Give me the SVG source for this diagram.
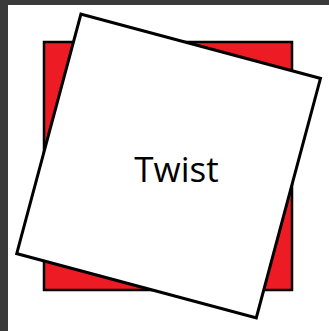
<svg xmlns="http://www.w3.org/2000/svg" width="329" height="331" viewBox="0 0 329 331">
<style>
.frame{fill:#3a3a3a}
.back{fill:#ed1c24;stroke:#000;stroke-width:2.5}
.front{fill:#fff;stroke:#000;stroke-width:3;stroke-linejoin:miter}
.lbl{font-family:"Open Sans","Segoe UI",sans-serif;font-size:35px;fill:#000;text-anchor:middle}
</style>
<rect width="329" height="331" fill="#fff"/>
<rect class="frame" x="0" y="0" width="329" height="5"/>
<rect class="frame" x="0" y="0" width="8" height="331"/>
<g id="back-square">
<rect class="back" x="44" y="42" width="248" height="248"/>
</g>
<g id="twist">
<rect class="front" x="-124" y="-124" width="248" height="248" transform="translate(168.6 166) rotate(15)"/>
<text class="lbl" x="176.5" y="182">Twist</text>
</g>
</svg>
